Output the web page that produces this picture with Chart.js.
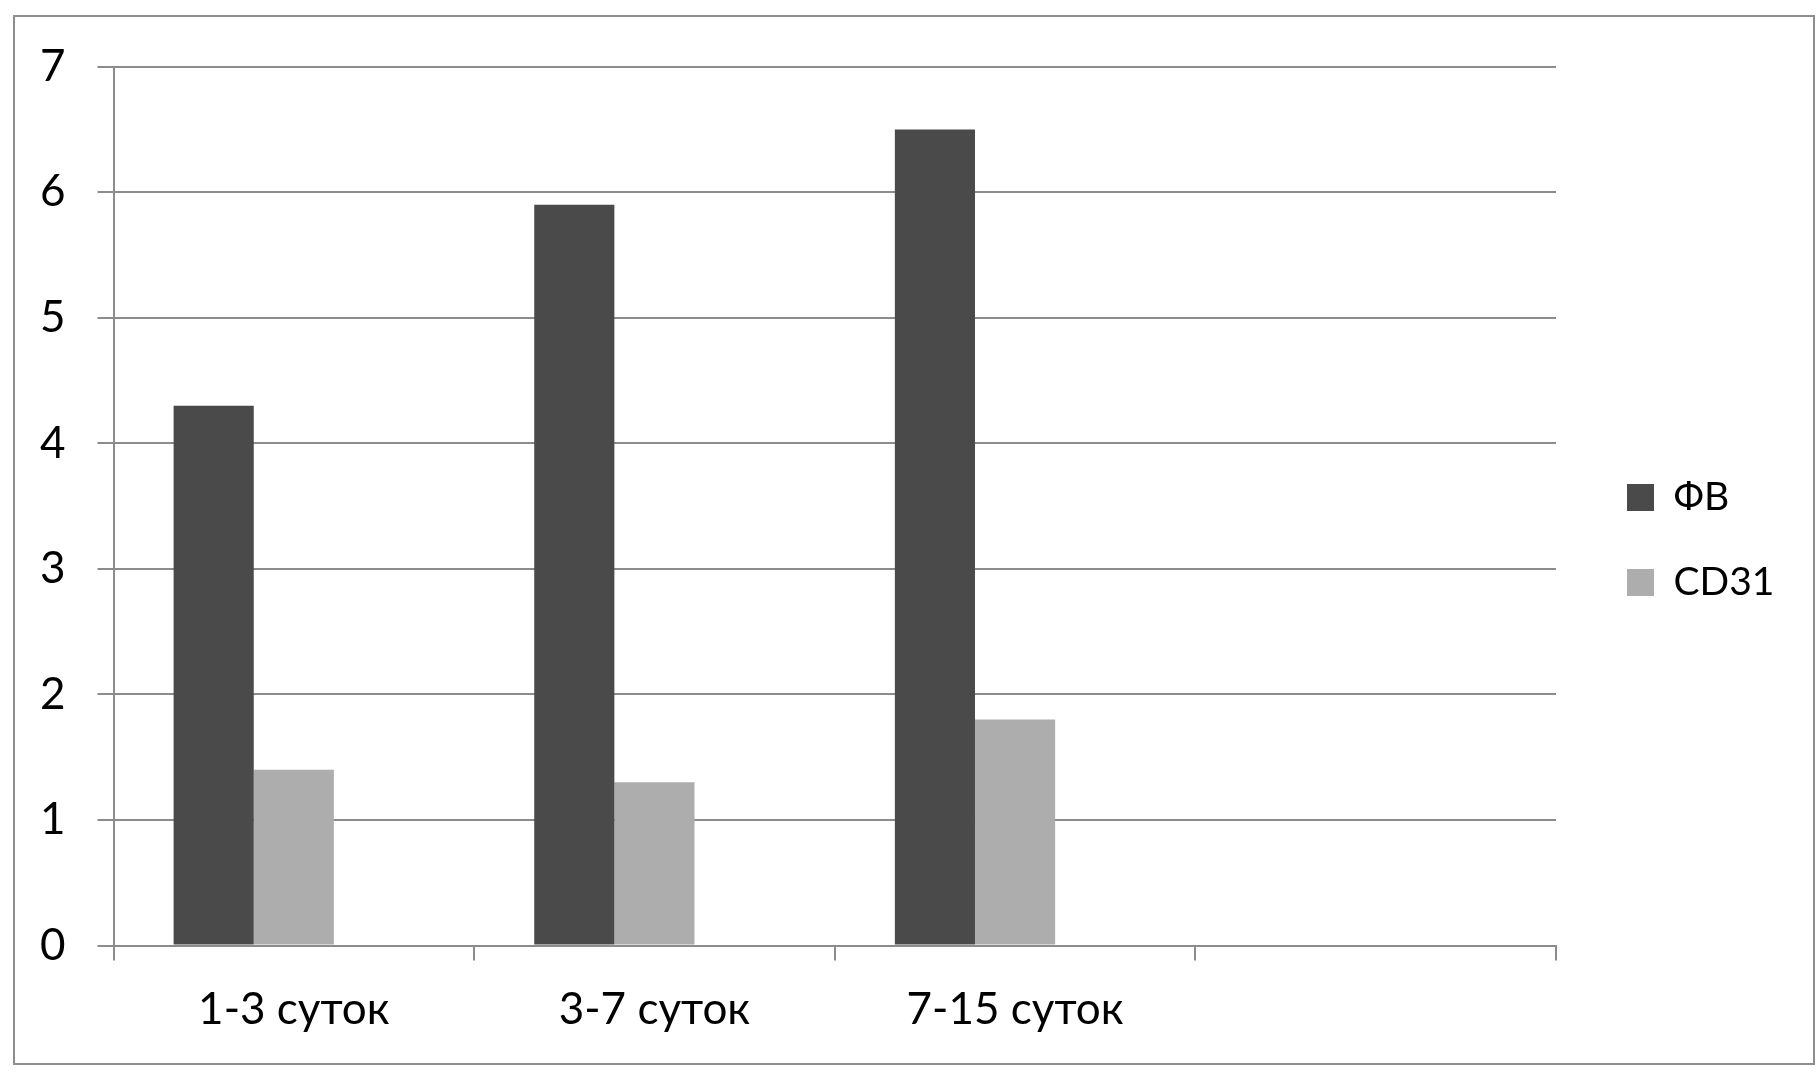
<!DOCTYPE html>
<html>
<head>
<meta charset="utf-8">
<script src="https://cdn.jsdelivr.net/npm/chart.js@4.4.1/dist/chart.umd.min.js"></script>
<style>
  html, body { margin: 0; background: #fff; }
  #frame {
    position: absolute;
    left: 13px;
    top: 15px;
    width: 1798px;
    height: 1046px;
    border: 2px solid #8e8e8e;
  }
</style>
</head>
<body>
<div id="frame"><canvas id="chart"></canvas></div>
<script>
// данные
const categories = ['1-3 суток', '3-7 суток', '7-15 суток', ''];
const seriesNames = ['ФВ', 'CD31'];
const fvValues = [4.3, 5.9, 6.5, null];
const cd31Values = [1.4, 1.3, 1.8, null];
const emptyValues = [null, null, null, null];   // пустой третий ряд, как в Excel
const yTicks = [0, 1, 2, 3, 4, 5, 6, 7];

const gridColor = '#8c8c8c';
const legendFontSize = 39;
const legendPadding = 46;
const legendBox = 27;

// ширина легенды зависит от текста, поэтому отступ справа считаем
const measureCtx = document.createElement('canvas').getContext('2d');
measureCtx.font = legendFontSize + 'px Lato';
const longestName = Math.max(...seriesNames.map(n => measureCtx.measureText(n).width));
const legendWidth = legendPadding + legendBox + legendFontSize / 2 + longestName + 10;
const rightPad = 1798 - 1566 - legendWidth;

Chart.defaults.font.family = 'Lato';
Chart.defaults.color = '#000';

new Chart(document.getElementById('chart'), {
    type: 'bar',
    data: {
        labels: categories,
        datasets: [
            { label: seriesNames[0], data: fvValues, backgroundColor: '#4a4a4a', borderWidth: 0 },
            { label: seriesNames[1], data: cd31Values, backgroundColor: '#adadad', borderWidth: 0 },
            { label: '', data: emptyValues, backgroundColor: 'rgba(0,0,0,0)', borderWidth: 0 }
        ]
    },
    options: {
        responsive: true,
        maintainAspectRatio: false,
        animation: false,
        categoryPercentage: 3 / 4.5,
        barPercentage: 1,
        layout: { padding: { left: 0, top: 0, bottom: 0, right: rightPad } },
        plugins: {
            tooltip: { enabled: false },
            legend: {
                position: 'right',
                align: 'center',
                labels: {
                    boxWidth: legendBox,
                    boxHeight: legendBox,
                    padding: legendPadding,
                    font: { size: legendFontSize },
                    color: '#000',
                    filter: item => item.datasetIndex < 2
                }
            }
        },
        scales: {
            x: {
                type: 'category',
                offset: true,
                grid: {
                    offset: true,
                    drawOnChartArea: false,
                    color: gridColor,
                    lineWidth: 2,
                    tickLength: 15
                },
                border: { display: true, color: gridColor, width: 2 },
                ticks: { font: { size: 44 }, padding: 23, maxRotation: 0, autoSkip: false },
                afterFit: s => { s.height = 117.5; }
            },
            y: {
                min: 0,
                max: 7,
                grid: { color: gridColor, lineWidth: 2, tickLength: 16 },
                border: { display: true, color: gridColor, width: 2 },
                ticks: { font: { size: 44 }, padding: 32 },
                afterBuildTicks: s => { s.ticks = yTicks.map(v => ({ value: v })); },
                afterFit: s => {
                    s.width = 98.5;
                    s.paddingTop = 0;
                    s.paddingBottom = 0;
                }
            },
            // пустые оси — только место сверху и между графиком и легендой
            xTop: {
                axis: 'x',
                type: 'linear',
                position: 'top',
                grid: { display: false },
                border: { display: false },
                ticks: { display: false },
                afterFit: s => { s.height = 49.7; }
            },
            yRight: {
                axis: 'y',
                type: 'linear',
                position: 'right',
                grid: { display: false },
                border: { display: false },
                ticks: { display: false },
                afterFit: s => { s.width = 25; }
            }
        }
    }
});
</script>
</body>
</html>
